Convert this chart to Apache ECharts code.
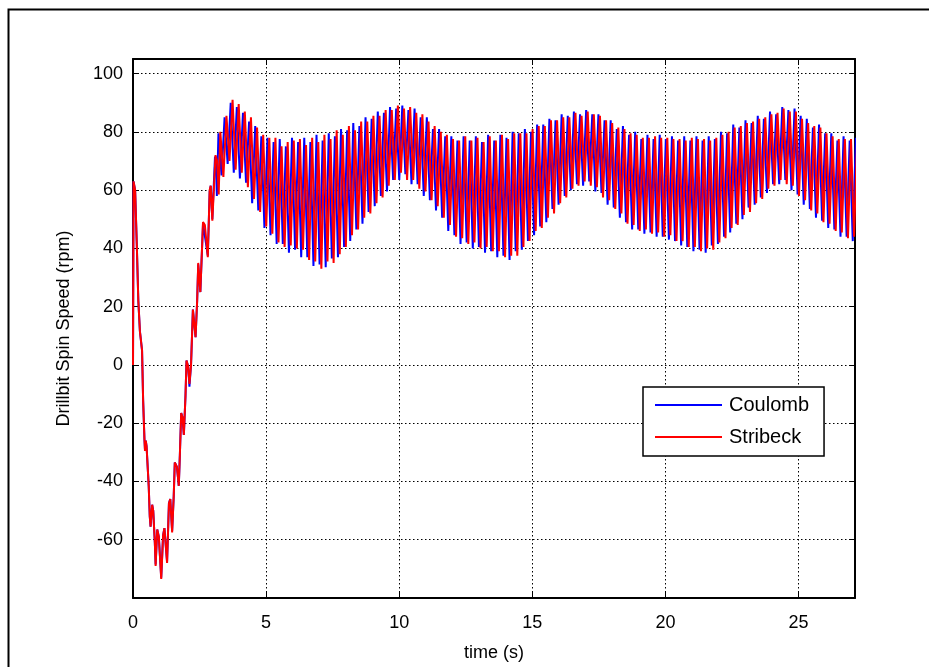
<!DOCTYPE html>
<html>
<head>
<meta charset="utf-8">
<script src="https://cdn.jsdelivr.net/npm/echarts@6/dist/echarts.min.js"></script>
<style>
  html, body { margin: 0; padding: 0; background: #fff; }
  #chart { width: 929px; height: 667px; }
</style>
</head>
<body>
<div id="chart"></div>
<script>
// start-up transient (time in s, speed in rpm)
var coulombTransT = [0, 0.02, 0.08, 0.14, 0.2, 0.26, 0.3, 0.34, 0.38, 0.43, 0.45, 0.48, 0.51, 0.59, 0.63, 0.66, 0.72, 0.76, 0.82, 0.85,
  0.91, 0.97, 1.06, 1.13, 1.18, 1.28, 1.35, 1.4, 1.47, 1.53, 1.57, 1.65, 1.72, 1.76, 1.81, 1.86, 1.91, 1.97, 2.01, 2.07,
  2.12, 2.18, 2.25, 2.3, 2.35, 2.41, 2.45, 2.53, 2.63, 2.7, 2.81, 2.88, 2.92, 2.98, 3.08, 3.12, 3.15];
var coulombTrans = [0, 63, 60, 42, 22, 11.5, 11, 5, -12, -25.5, -29, -26, -28, -41.5, -52, -55.5, -48, -50, -61, -68.5,
  -56.5, -59, -73, -58.5, -56, -67.5, -47.5, -46, -57, -45, -33.5, -35, -41.5, -31, -16.5, -18, -24, -11, 1.5, -0.5,
  -7.5, 0, 19, 19.5, 9.5, 22, 34.5, 25, 48.5, 48, 37.5, 59.5, 61.5, 50, 71.5, 68, 58];
var stribeckTransT = [0, 0.02, 0.08, 0.14, 0.2, 0.26, 0.3, 0.34, 0.38, 0.43, 0.45, 0.48, 0.51, 0.59, 0.63, 0.66, 0.72, 0.76, 0.82, 0.85,
  0.91, 0.97, 1.06, 1.13, 1.18, 1.28, 1.35, 1.4, 1.47, 1.53, 1.57, 1.65, 1.72, 1.76, 1.81, 1.86, 1.91, 1.97, 2.01, 2.07,
  2.12, 2.18, 2.25, 2.3, 2.35, 2.41, 2.45, 2.53, 2.63, 2.7, 2.81, 2.88, 2.92, 2.98, 3.1, 3.16, 3.22];
var stribeckTrans = [0, 63, 60, 42, 22, 11.5, 11, 5, -12, -25.5, -29.5, -26, -28, -41.5, -52, -55.5, -48, -50, -61, -69,
  -56.5, -59, -73.5, -58.5, -56, -68, -47.5, -46, -57.5, -45, -33.5, -35, -41.5, -31, -16.5, -18, -24, -11, 1.5, -0.5,
  -6.5, 0, 19, 19, 9.5, 22, 35, 25, 49, 48, 37, 60, 61.5, 49.5, 72, 70, 58.5];

// stick-slip oscillation: one peak and one trough per cycle
var coulombStart = 3.21, coulombPeriod = 0.2302;
var stribeckStart = 3.28, stribeckPeriod = 0.23;

var coulombPeaks = [
  79.5, 85, 90, 88.5, 86.5, 83.5, 82, 78.5, 78, 76.5,
  77.5, 75, 78, 76.5, 78, 76.5, 79, 77, 79.5, 78.5,
  81, 80.5, 83, 82, 85, 84.5, 87, 86.5, 88.5, 88,
  89, 87.5, 88, 85, 85, 81, 81, 78.5, 78.5, 77,
  78.5, 77, 78.5, 76.5, 79, 77, 79, 78, 80, 79.5,
  81, 80, 82.5, 82.5, 84.5, 84, 86, 85.5, 87, 86,
  87.5, 86, 86, 84, 84, 81, 82, 79, 80, 77.5,
  79, 77.5, 79, 77.5, 78.5, 77, 78.5, 77, 78.5, 77,
  78.5, 77.5, 80, 79.5, 82.5, 81.5, 84, 83, 85.5, 84.5,
  87, 86, 88.5, 87.5, 88, 85.5, 84.5, 81.5, 82.5, 79.5,
  79.5, 77, 78.5, 77, 78];
var coulombTroughs = [
  65, 69, 66, 64, 62.5, 55.5, 53, 47, 44.5, 41.5,
  41.5, 38.5, 39.5, 37, 37, 34, 34.5, 33.5, 36.5, 37,
  40.5, 42.5, 46.5, 48.5, 52.5, 54.5, 58, 59.5, 63.5, 63.5,
  65.5, 62, 62, 58, 56.5, 53, 50.5, 46, 44.5, 41.5,
  42, 40, 40.5, 38.5, 39, 37, 37.5, 36, 39, 39.5,
  42.5, 44.5, 47.5, 49, 53.5, 55, 58, 60, 62, 61.5,
  63, 59.5, 59, 55, 54, 50.5, 49, 46.5, 46.5, 45,
  45.5, 44, 44, 43, 42.5, 41, 40.5, 39, 39.5, 38.5,
  41, 41.5, 44, 45.5, 48.5, 50, 54, 55, 57.5, 59,
  62, 62, 63.5, 60, 58.5, 55, 53.5, 50.5, 49.5, 47,
  46.5, 44, 44, 42.5];
var stribeckPeaks = [
  80, 85.5, 91, 89.5, 87, 85, 81.5, 79, 78, 78,
  75, 76.5, 77, 77.5, 75.5, 78, 76.5, 79, 77.5, 80.5,
  79, 82, 80.5, 83.5, 83.5, 85.5, 85.5, 87.5, 87.5, 89,
  88, 88.5, 86.5, 86, 83.5, 82, 80, 79, 77.5, 77,
  78.5, 77, 78, 76.5, 78.5, 77, 79, 77.5, 79.5, 79.5,
  79.5, 81, 82, 82, 84, 84, 85, 85, 86.5, 85.5,
  87, 86, 85.5, 84, 83, 81.5, 81, 79.5, 79, 78,
  78, 78.5, 78, 78, 77.5, 77.5, 77, 78, 77.5, 77.5,
  77, 78, 79, 80, 81.5, 82, 83, 83.5, 84.5, 85,
  86, 86.5, 88, 87, 87, 84.5, 83, 82, 81.5, 79.5,
  78.5, 77.5, 77.5, 77.5, 77];
var stribeckTroughs = [
  64.5, 70, 67, 66, 61, 57, 52.5, 47.5, 45, 42,
  40.5, 41, 40, 39.5, 36, 35.5, 33, 35.5, 35, 38,
  40.5, 44.5, 46.5, 50.5, 52, 55.5, 57.5, 61.5, 63.5, 66,
  63.5, 63.5, 60.5, 59.5, 56.5, 54.5, 50.5, 48, 44, 43.5,
  41.5, 42, 40, 40.5, 39, 39, 37, 37.5, 37.5, 40.5,
  42.5, 46, 47, 50.5, 52, 55.5, 57.5, 60.5, 61.5, 63,
  61.5, 61, 57.5, 56.5, 53.5, 52, 48.5, 48, 46, 46.5,
  45, 45.5, 44, 44.5, 42.5, 42.5, 40.5, 40.5, 39, 40,
  39.5, 42, 43.5, 47, 48, 51.5, 52.5, 55.5, 57, 60.5,
  61.5, 63.5, 62, 61.5, 58, 56.5, 53, 52, 49, 48.5,
  46, 45.5, 43.5, 44];

var xTicks = { min: 0, max: 27.12, step: 5 };
var yTicks = { min: -80, max: 105, step: 20 };

function buildLine(tt, trans, peaks, troughs, start, period) {
  var pts = [];
  for (var i = 0; i < tt.length; i++) pts.push([tt[i], trans[i]]);
  for (var k = 0; k < peaks.length; k++) {
    var t = start + k * period;
    pts.push([+t.toFixed(4), peaks[k]]);
    if (k < troughs.length) pts.push([+(t + period / 2).toFixed(4), troughs[k]]);
  }
  return pts;
}

var coulomb = buildLine(coulombTransT, coulombTrans, coulombPeaks, coulombTroughs, coulombStart, coulombPeriod);
var stribeck = buildLine(stribeckTransT, stribeckTrans, stribeckPeaks, stribeckTroughs, stribeckStart, stribeckPeriod);

var font = 'Liberation Sans, Arial, Helvetica, sans-serif';
var chart = echarts.init(document.getElementById('chart'), null, { renderer: 'canvas' });

function boxAxis(base, extra) {
  return Object.assign({
    type: 'value',
    min: base.min, max: base.max, interval: base.step,
    axisLine: { show: true, onZero: false, lineStyle: { color: '#000', width: 2 } },
    axisTick: { show: true, inside: true, length: 6, lineStyle: { color: '#000', width: 1 } },
    splitLine: { show: false },
    axisLabel: { show: false }
  }, extra);
}

chart.setOption({
  animation: false,
  backgroundColor: '#fff',
  graphic: [{
    type: 'rect', left: 6, top: 7, z: -10,
    shape: { width: 1000, height: 800 },
    style: { fill: 'none', stroke: '#000', lineWidth: 2 }
  }],
  grid: { left: 133, right: 74, top: 59, bottom: 68, containLabel: false },
  legend: {
    orient: 'vertical',
    left: 643, top: 387,
    backgroundColor: '#fff',
    borderColor: '#000', borderWidth: 1.5,
    padding: [8, 15, 9, 12],
    itemGap: 12,
    itemWidth: 67, itemHeight: 2,
    icon: 'rect',
    textStyle: { fontFamily: font, fontSize: 20, color: '#000', padding: [0, 0, 0, 2] },
    data: ['Coulomb', 'Stribeck']
  },
  xAxis: [
    boxAxis(xTicks, {
      position: 'bottom',
      name: 'time (s)', nameLocation: 'middle', nameGap: 46,
      nameTextStyle: { fontFamily: font, fontSize: 18, color: '#000' },
      axisLabel: { show: true, margin: 16, fontFamily: font, fontSize: 18, color: '#000', showMaxLabel: false },
      splitLine: { show: true, lineStyle: { color: '#000', width: 1, type: [1.5, 2.5] } }
    }),
    boxAxis(xTicks, { position: 'top' })
  ],
  yAxis: [
    boxAxis(yTicks, {
      position: 'left',
      name: 'Drillbit Spin Speed (rpm)', nameLocation: 'middle', nameGap: 60,
      nameTextStyle: { fontFamily: font, fontSize: 18, color: '#000' },
      axisLabel: { show: true, margin: 10, fontFamily: font, fontSize: 18, color: '#000', showMinLabel: false, showMaxLabel: false },
      splitLine: { show: true, lineStyle: { color: '#000', width: 1, type: [1.5, 2.5] } }
    }),
    boxAxis(yTicks, { position: 'right' })
  ],
  series: [
    {
      name: 'Coulomb', type: 'line', data: coulomb,
      showSymbol: false, symbol: 'none', sampling: null,
      lineStyle: { color: '#0000ff', width: 2 }, itemStyle: { color: '#0000ff' }
    },
    {
      name: 'Stribeck', type: 'line', data: stribeck,
      showSymbol: false, symbol: 'none', sampling: null,
      lineStyle: { color: '#ff0000', width: 2 }, itemStyle: { color: '#ff0000' }
    }
  ]
});
</script>
</body>
</html>
